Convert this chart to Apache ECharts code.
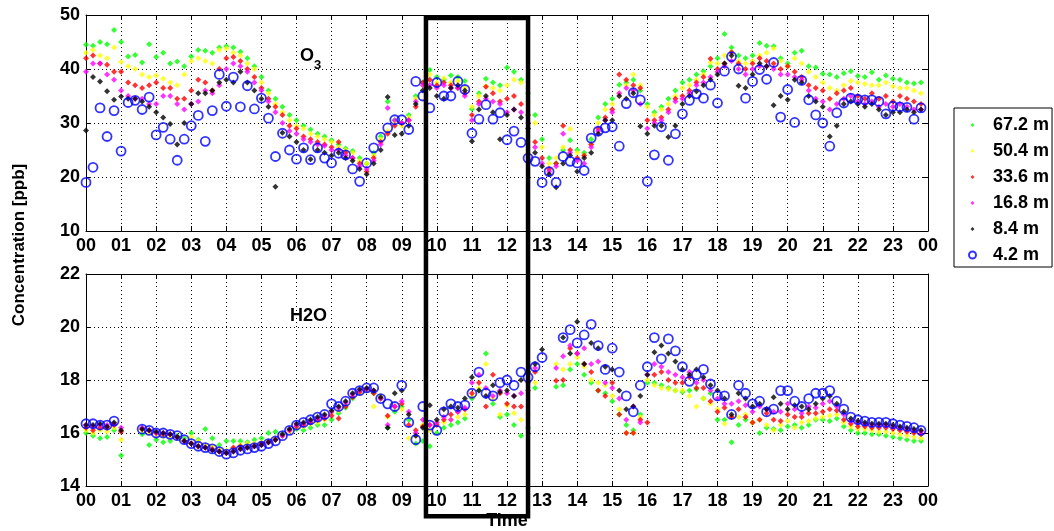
<!DOCTYPE html>
<html>
<head>
<meta charset="utf-8">
<script src="https://cdn.jsdelivr.net/npm/echarts@6/dist/echarts.min.js"></script>
<style>
html,body{margin:0;padding:0;background:#fff;}
#main{width:1054px;height:531px;}
#err{position:absolute;left:0;top:0;font:12px monospace;color:#c00;}
</style>
</head>
<body>
<div id="main"></div>
<div id="err"></div>
<script>
// sampling grid: every 0.2 h from 00 to 23.8
var hours = [];
for (var i = 0; i < 120; i++) hours.push(Math.round(i * 2) / 10);

var heights = ['67.2 m', '50.4 m', '33.6 m', '16.8 m', '8.4 m', '4.2 m'];
var colors = ['#00ff00', '#ffff00', '#ff0000', '#ff00ff', '#000000', '#0000ff'];
var hourLabels = ['00','01','02','03','04','05','06','07','08','09','10','11','12','13','14','15','16','17','18','19','20','21','22','23','00'];
var boxHours = [9.69, 12.6];   // highlighted period

// ---- O3 [ppb] ----
var o3_672 = [
 44.5,44.3,45.0,44.6,47.2,45.0,42.3,42.6,41.2,44.6,
 42.2,43.0,41.0,41.4,40.5,42.3,43.5,43.4,43.0,44.0,
 44.2,44.0,43.2,42.0,40.5,38.5,36.0,34.5,33.0,31.5,
 30.5,29.5,28.8,28.0,27.5,26.8,26.0,25.3,24.8,23.5,
 22.5,24.5,27.5,34.0,30.5,30.0,31.5,35.0,37.5,39.8,
 38.5,38.0,38.8,38.5,37.8,32.6,35.5,38.2,37.5,37.0,
 40.3,39.5,38.0,35.5,31.5,27.0,23.5,22.5,25.0,26.8,
 25.0,24.5,27.0,31.0,33.5,34.5,37.1,37.5,38.0,36.0,
 33.5,32.0,33.0,34.5,36.0,37.5,38.0,39.0,39.6,40.5,
 42.0,46.5,44.0,42.5,42.0,42.5,44.8,44.3,44.2,42.0,
 41.0,43.0,43.4,40.5,40.3,39.1,39.0,38.5,39.2,39.6,
 38.7,38.5,39.4,38.0,38.8,38.2,38.0,37.5,37.3,37.5];
var o3_504 = [
 43.0,43.5,42.5,42.0,44.0,41.3,40.5,40.0,39.0,38.5,
 38.8,38.2,37.5,37.0,39.0,41.5,42.0,41.5,41.0,43.5,
 43.8,43.0,42.5,41.0,40.0,37.5,35.5,33.5,32.0,30.5,
 29.5,29.0,28.0,27.5,27.0,26.5,25.5,25.0,24.5,23.0,
 22.5,24.0,27.0,28.5,30.0,29.5,31.0,34.5,37.0,39.0,
 37.5,38.3,37.5,37.8,36.5,33.0,35.0,36.8,36.5,36.0,
 37.0,38.0,37.5,34.0,30.0,25.5,22.5,23.5,25.5,28.9,
 24.5,24.0,26.0,30.0,32.5,33.5,35.5,37.0,39.0,37.0,
 33.0,31.5,32.5,33.5,35.0,36.5,37.0,38.0,39.0,41.2,
 41.0,42.5,43.2,41.5,41.0,41.5,42.5,43.0,43.8,41.5,
 40.5,42.0,41.0,39.5,38.5,37.5,36.5,36.0,37.0,37.8,
 37.5,37.2,37.0,37.0,37.5,36.8,36.5,36.5,36.0,35.5];
var o3_336 = [
 42.0,42.5,41.0,40.8,39.5,39.5,37.5,37.0,36.5,37.0,
 37.5,36.5,36.5,34.5,34.5,36.0,38.0,37.5,36.0,40.0,
 42.0,42.2,41.5,40.0,38.5,36.5,34.5,33.0,31.5,29.5,
 29.0,27.5,27.0,26.5,26.0,25.5,26.5,24.5,23.5,22.5,
 21.0,23.5,26.5,28.0,29.5,30.0,30.5,33.0,37.5,38.0,
 37.0,37.5,37.0,36.5,35.5,31.5,34.0,36.7,35.5,34.0,
 34.5,35.0,33.5,31.5,26.5,23.5,21.5,22.5,29.5,25.0,
 23.5,24.0,26.0,29.0,31.0,32.5,39.0,38.0,37.0,36.5,
 30.5,30.5,31.0,32.5,34.5,35.0,36.0,37.5,38.5,41.9,
 40.0,41.0,43.1,41.0,40.0,41.0,42.0,41.5,41.0,40.0,
 40.5,39.5,38.5,37.0,36.5,36.0,34.5,35.5,36.0,36.5,
 35.0,34.5,35.5,34.5,35.0,34.0,35.0,34.5,34.0,33.5];
var o3_168 = [
 39.5,41.0,41.0,39.0,38.0,36.0,35.0,34.5,34.5,33.5,
 33.5,35.0,35.0,33.5,32.5,33.5,34.0,36.0,35.5,37.0,
 40.0,41.0,40.5,39.5,37.5,36.0,34.0,32.0,30.0,28.5,
 28.0,27.0,26.5,26.0,25.8,25.0,25.0,24.0,23.5,22.0,
 21.5,23.0,26.0,32.8,30.5,30.0,30.5,34.0,37.0,37.0,
 36.5,37.0,36.5,36.5,35.0,30.5,33.5,34.5,34.0,33.5,
 32.0,32.5,32.0,30.0,25.5,22.5,21.0,22.0,28.0,24.5,
 23.0,22.5,25.5,28.5,30.5,32.0,35.5,36.5,36.0,33.5,
 29.0,30.0,30.5,32.0,34.0,34.5,35.5,37.0,37.5,38.5,
 39.5,40.5,41.5,40.0,39.0,40.0,40.5,40.5,40.0,39.0,
 39.0,38.5,38.0,36.0,34.5,34.0,32.5,33.5,34.5,35.0,
 34.0,33.5,34.0,33.0,33.5,33.0,33.5,33.0,32.5,32.5];
var o3_84 = [
 28.6,38.5,37.7,35.9,34.3,34.9,34.5,34.5,34.0,33.0,
 32.0,31.0,29.8,26.0,30.0,33.5,35.5,35.5,36.0,37.5,
 38.0,37.5,39.5,37.5,36.0,34.5,33.0,18.2,28.2,27.5,
 26.5,25.0,23.3,25.0,24.5,24.0,24.5,23.5,23.0,21.5,
 20.5,22.5,25.0,34.8,27.8,28.0,29.5,33.5,36.0,36.5,
 35.0,34.5,36.5,37.0,36.0,26.6,32.5,35.0,32.0,27.0,
 31.5,32.5,31.0,29.0,24.5,22.0,20.5,18.1,22.5,24.0,
 21.0,23.5,24.5,28.0,30.5,30.5,35.0,34.5,35.5,29.4,
 28.0,29.5,29.5,27.4,29.5,33.5,35.0,35.9,37.0,38.0,
 39.0,41.0,42.5,36.9,36.5,39.0,41.0,40.5,33.3,35.0,
 34.3,38.0,37.5,35.0,34.0,33.0,27.5,29.5,33.5,34.0,
 33.5,33.0,33.5,32.5,31.5,32.0,32.0,32.5,32.0,32.5];
var o3_42 = [
 19.0,21.8,32.8,27.5,32.3,24.8,33.8,34.2,32.5,34.8,
 27.8,29.2,27.0,23.1,27.0,29.5,31.4,26.6,32.3,39.0,
 33.1,38.5,33.0,36.9,32.6,34.6,30.9,23.8,28.1,25.0,
 23.3,25.4,23.2,25.4,23.5,22.6,24.4,24.1,21.5,19.2,
 22.6,25.4,27.4,29.1,30.6,30.6,28.8,37.7,35.0,32.8,
 37.5,35.0,35.0,37.7,36.2,28.1,30.7,33.4,30.7,31.9,
 26.9,28.5,26.4,23.5,22.9,19.0,21.0,19.0,23.8,22.9,
 22.6,21.2,27.2,28.5,29.1,29.3,25.7,33.6,35.6,34.3,
 19.2,24.1,29.3,23.1,28.0,31.7,34.2,35.4,34.6,37.0,
 33.7,39.6,42.3,40.0,34.6,37.7,39.9,38.1,41.2,31.1,
 36.2,30.1,37.9,34.3,31.5,30.0,25.7,31.9,33.7,34.6,
 34.4,34.3,34.3,34.0,31.7,33.1,33.0,32.9,30.7,32.8];

// ---- H2O ----
var h2o_672 = [
 16.0,15.9,15.8,15.85,16.1,15.15,null,null,15.95,15.55,
 15.75,15.65,15.7,15.9,15.8,16.0,15.75,16.15,15.8,15.55,
 15.7,15.7,15.7,15.65,15.75,15.8,16.0,16.05,15.95,16.1,
 16.15,16.1,16.2,16.3,16.3,16.5,16.75,16.95,17.3,17.55,
 17.6,17.5,17.3,16.2,16.8,17.0,16.5,15.6,15.7,15.5,
 16.0,16.2,16.3,16.4,16.55,17.3,17.6,19.0,17.1,16.6,
 16.7,16.3,15.9,16.2,17.7,null,null,17.75,17.8,18.4,
 18.6,18.2,17.9,17.6,17.5,17.2,16.7,16.3,16.1,16.7,
 17.9,17.9,17.8,17.7,17.6,17.55,17.6,17.65,17.3,17.5,
 16.5,16.5,15.65,16.3,16.5,16.4,16.0,16.2,16.15,16.1,
 16.25,16.3,16.2,16.3,16.5,16.5,16.45,16.55,16.25,16.1,
 16.0,16.0,15.95,15.95,15.9,15.85,15.8,15.75,15.7,15.7];
var h2o_504 = [
 16.1,16.0,16.1,16.05,16.2,15.75,null,null,16.1,16.0,
 15.95,15.9,15.85,15.8,15.7,15.85,15.7,15.55,15.5,15.4,
 15.35,15.4,15.55,15.6,15.6,15.65,15.7,15.8,15.95,16.05,
 16.2,16.25,16.35,16.4,16.5,16.75,16.85,17.05,17.35,17.5,
 17.6,17.0,17.4,16.6,17.0,16.9,15.8,15.9,16.3,16.1,
 16.4,16.4,16.5,16.6,16.7,17.4,17.7,18.6,17.3,16.7,
 17.05,16.75,16.5,16.7,17.9,null,null,18.6,18.4,18.6,
 18.85,18.5,18.0,17.9,17.8,17.4,16.9,16.0,16.0,16.6,
 18.0,17.8,17.7,17.65,17.6,17.6,17.4,17.0,17.3,17.1,
 16.9,16.35,16.6,16.6,16.7,16.4,16.5,16.3,16.1,16.3,
 16.45,16.2,16.4,16.45,16.55,16.6,16.65,16.7,16.4,16.25,
 16.15,16.15,16.1,16.05,16.05,16.0,15.95,15.9,15.85,15.8];
var h2o_336 = [
 16.2,16.1,16.2,16.2,16.3,16.05,null,null,16.15,16.1,
 16.0,15.95,15.95,15.85,15.7,15.6,15.5,15.45,15.4,15.3,
 15.25,15.45,15.5,15.45,15.5,15.6,15.65,15.75,15.9,16.1,
 16.25,16.3,16.4,16.5,16.55,16.65,16.55,17.0,17.35,17.55,
 17.65,17.5,17.3,16.65,17.0,17.1,16.3,16.1,16.25,16.3,
 16.3,16.5,16.7,16.8,16.9,17.5,17.9,17.0,18.2,17.5,
 17.1,17.0,17.0,17.6,18.3,null,null,17.97,18.0,19.2,
 19.0,18.6,18.3,17.6,17.4,17.9,16.7,16.0,16.0,16.5,
 16.4,18.2,18.3,18.0,17.9,17.9,18.1,17.7,17.7,17.2,
 16.8,16.95,16.6,16.9,16.6,16.4,16.5,16.75,16.5,16.45,
 16.7,16.6,16.6,16.75,16.75,16.8,16.9,16.85,16.5,16.35,
 16.25,16.25,16.2,16.2,16.2,16.15,16.1,16.05,16.0,15.95];
var h2o_168 = [
 16.3,16.25,16.3,16.3,16.35,16.2,null,null,16.2,16.1,
 16.0,16.0,15.95,15.85,15.7,15.6,15.5,15.45,15.35,15.3,
 15.25,15.3,15.4,15.45,15.5,15.55,15.65,15.75,15.9,16.1,
 16.3,16.35,16.45,16.55,16.65,16.8,16.95,17.15,17.45,17.6,
 17.65,17.6,17.3,16.3,17.0,17.2,16.8,16.0,16.5,16.3,
 16.4,16.6,16.5,16.8,16.95,17.9,18.2,17.7,17.4,17.6,
 17.5,17.4,17.5,17.9,18.45,null,null,18.45,18.9,19.3,
 19.0,19.2,18.6,18.7,17.9,17.7,17.3,16.5,17.0,16.4,
 18.2,18.6,18.5,18.3,18.2,18.1,18.3,17.9,18.0,17.6,
 17.3,17.1,17.1,17.2,17.05,16.8,17.0,16.9,16.8,16.8,
 17.1,16.9,16.75,17.0,16.95,17.1,17.2,17.0,16.7,16.45,
 16.4,16.35,16.3,16.3,16.3,16.25,16.2,16.15,16.1,16.05];
var h2o_84 = [
 16.3,16.3,16.35,16.25,16.4,16.1,null,null,16.15,16.1,
 16.05,16.0,15.95,15.85,15.7,15.6,15.5,15.45,15.35,15.3,
 15.25,15.3,15.4,15.45,15.5,15.55,15.65,15.75,15.95,16.15,
 16.35,16.4,16.5,16.6,16.7,16.85,17.0,17.2,17.5,17.65,
 17.7,17.6,17.35,16.2,17.5,17.6,16.7,15.9,16.2,17.05,
 16.5,16.9,17.0,16.95,17.3,18.1,17.6,17.4,17.8,17.55,
 17.6,17.4,18.0,18.3,18.6,19.15,null,null,19.6,19.0,
 20.2,18.6,19.4,19.2,18.5,18.4,17.6,16.9,17.0,17.4,
 18.2,19.05,19.3,19.0,18.7,18.4,18.2,18.4,18.1,17.8,
 17.6,17.3,16.7,17.5,17.3,17.0,17.1,16.9,17.35,17.1,
 16.9,17.05,17.0,16.9,17.1,17.3,17.4,17.1,16.8,16.55,
 16.45,16.4,16.35,16.35,16.35,16.3,16.25,16.2,16.15,16.1];
var h2o_42 = [
 16.35,16.35,16.3,16.3,16.45,null,null,null,16.15,16.1,
 16.0,16.0,15.95,15.9,15.75,15.6,15.5,15.45,15.4,15.3,
 15.2,15.25,15.35,15.4,15.45,15.5,15.6,15.7,15.9,16.1,
 16.3,16.4,16.5,16.6,16.7,17.1,17.0,17.2,17.5,17.6,
 17.7,17.7,17.3,17.1,17.0,17.8,16.4,15.75,17.0,16.3,
 16.1,16.8,17.1,17.0,17.05,17.5,18.3,17.5,17.4,17.9,
 18.0,17.8,18.3,18.1,18.5,18.85,null,null,19.6,19.9,
 19.4,19.7,20.1,19.3,18.4,19.2,18.3,17.4,16.8,17.8,
 18.5,19.6,18.8,19.55,19.1,18.5,17.95,18.2,18.4,17.85,
 17.4,17.4,16.7,17.8,17.5,17.1,17.2,16.8,16.9,17.6,
 17.6,17.2,17.0,17.3,17.5,17.5,17.6,17.2,16.9,16.6,
 16.5,16.45,16.4,16.4,16.4,16.35,16.3,16.25,16.2,16.1];

var o3 = [o3_672, o3_504, o3_336, o3_168, o3_84, o3_42];
var h2o = [h2o_672, h2o_504, h2o_336, h2o_168, h2o_84, h2o_42];

var font = 'Liberation Sans, Arial, sans-serif';
var weight = 'bold';
// small legend dot: the extra move-to points pad the icon box
var smallDiamond = 'path://M0,0M10,10M5,2.2L7.8,5L5,7.8L2.2,5Z';

function pairs(v) {
    var out = [];
    for (var i = 0; i < hours.length; i++) {
        if (v[i] != null) out.push([hours[i], v[i]]);
    }
    return out;
}

function styleFor(i) {
    if (i == 5) return {color: 'rgba(0,0,0,0)', borderColor: colors[i], borderWidth: 1.8};
    return {color: colors[i]};
}

function xAx(grid, pos, labels) {
    return {
        gridIndex: grid, type: 'value', position: pos,
        min: 0, max: 24, interval: 1,
        axisLine: {show: true, onZero: false, lineStyle: {color: '#000', width: 1}},
        axisTick: {show: true, inside: true, length: 5, lineStyle: {color: '#000'}},
        axisLabel: {show: labels, fontSize: 18, color: '#000', fontFamily: font, fontWeight: weight, margin: 6,
            formatter: function (v) { return hourLabels[Math.round(v)]; }},
        splitLine: {show: labels, lineStyle: {color: '#000', width: 1, type: [1, 3]}}
    };
}
function yAx(grid, pos, labels, mn, mx, step) {
    return {
        gridIndex: grid, type: 'value', position: pos,
        min: mn, max: mx, interval: step,
        axisLine: {show: true, onZero: false, lineStyle: {color: '#000', width: 1}},
        axisTick: {show: true, inside: true, length: 5, lineStyle: {color: '#000'}},
        axisLabel: {show: labels, fontSize: 18, color: '#000', fontFamily: font, fontWeight: weight, margin: 6},
        splitLine: {show: labels, lineStyle: {color: '#000', width: 1, type: [1, 3]}}
    };
}

try {
    // axes: x0 top-grid bottom, x1 top-grid top, x2 lower-grid bottom, x3 lower-grid top
    var xAxes = [xAx(0, 'bottom', true), xAx(0, 'top', false), xAx(1, 'bottom', true), xAx(1, 'top', false)];
    xAxes[2].name = 'Time';
    xAxes[2].nameLocation = 'middle';
    xAxes[2].nameGap = 26;
    xAxes[2].nameTextStyle = {fontSize: 18, color: '#000', fontFamily: font, fontWeight: weight};
    var yAxes = [
        yAx(0, 'left', true, 10, 50, 10), yAx(0, 'right', false, 10, 50, 10),
        yAx(1, 'left', true, 14, 22, 2), yAx(1, 'right', false, 14, 22, 2)
    ];

    var series = [];
    for (var k = 0; k < 6; k++) {
        series.push({
            name: heights[k], type: 'scatter', xAxisIndex: 0, yAxisIndex: 0,
            symbol: k == 5 ? 'circle' : 'diamond', symbolSize: k == 5 ? 9 : 6,
            itemStyle: styleFor(k), data: pairs(o3[k])
        });
        series.push({
            name: heights[k], type: 'scatter', xAxisIndex: 2, yAxisIndex: 2,
            symbol: k == 5 ? 'circle' : 'diamond', symbolSize: k == 5 ? 9 : 6,
            itemStyle: styleFor(k), data: pairs(h2o[k])
        });
    }

    var legendData = heights.map(function (h, i) {
        return i == 5 ? {name: h} : {name: h, icon: smallDiamond};
    });

    var chart = echarts.init(document.getElementById('main'));
    chart.setOption({
        animation: false,
        backgroundColor: '#fff',
        grid: [
            {left: 86, right: 126, top: 15, height: 216},
            {left: 86, right: 126, top: 274, height: 217}
        ],
        xAxis: xAxes,
        yAxis: yAxes,
        legend: {
            data: legendData,
            orient: 'vertical',
            left: 954, top: 108,
            itemWidth: 7, itemHeight: 7, itemGap: 8,
            padding: [8, 3, 3, 14],
            borderColor: '#000', borderWidth: 1,
            textStyle: {fontSize: 18, color: '#000', fontFamily: font, fontWeight: weight, padding: [0, 0, 0, 12]},
            selectedMode: false
        },
        series: series
    });

    // highlight box from the axes' own scales
    var p0 = chart.convertToPixel({seriesIndex: 0}, [boxHours[0], 49.45]);
    var p1 = chart.convertToPixel({seriesIndex: 1}, [boxHours[1], 12.86]);

    chart.setOption({
        graphic: [
            {type: 'text', left: 300, top: 47, z: 50,
             style: {text: 'O', fontSize: 18, fill: '#000', fontFamily: font, fontWeight: weight}},
            {type: 'text', left: 314, top: 59, z: 50,
             style: {text: '3', fontSize: 13, fill: '#000', fontFamily: font, fontWeight: weight}},
            {type: 'text', left: 290, top: 307, z: 50,
             style: {text: 'H2O', fontSize: 18, fill: '#000', fontFamily: font, fontWeight: weight}},
            {type: 'text', x: 19, y: 245, rotation: Math.PI / 2, z: 50,
             style: {text: 'Concentration [ppb]', fontSize: 17, fill: '#000', fontFamily: font, fontWeight: weight,
                     align: 'center', verticalAlign: 'middle'}},
            {type: 'rect', z: 100,
             shape: {x: p0[0], y: p0[1], width: p1[0] - p0[0], height: p1[1] - p0[1]},
             style: {fill: 'none', stroke: '#000', lineWidth: 4.5}}
        ]
    });
} catch (e) {
    document.getElementById('err').textContent = 'ERR: ' + e.message + ' | ' + (e.stack || '').split('\n').slice(0, 3).join(' ');
}
</script>
</body>
</html>
